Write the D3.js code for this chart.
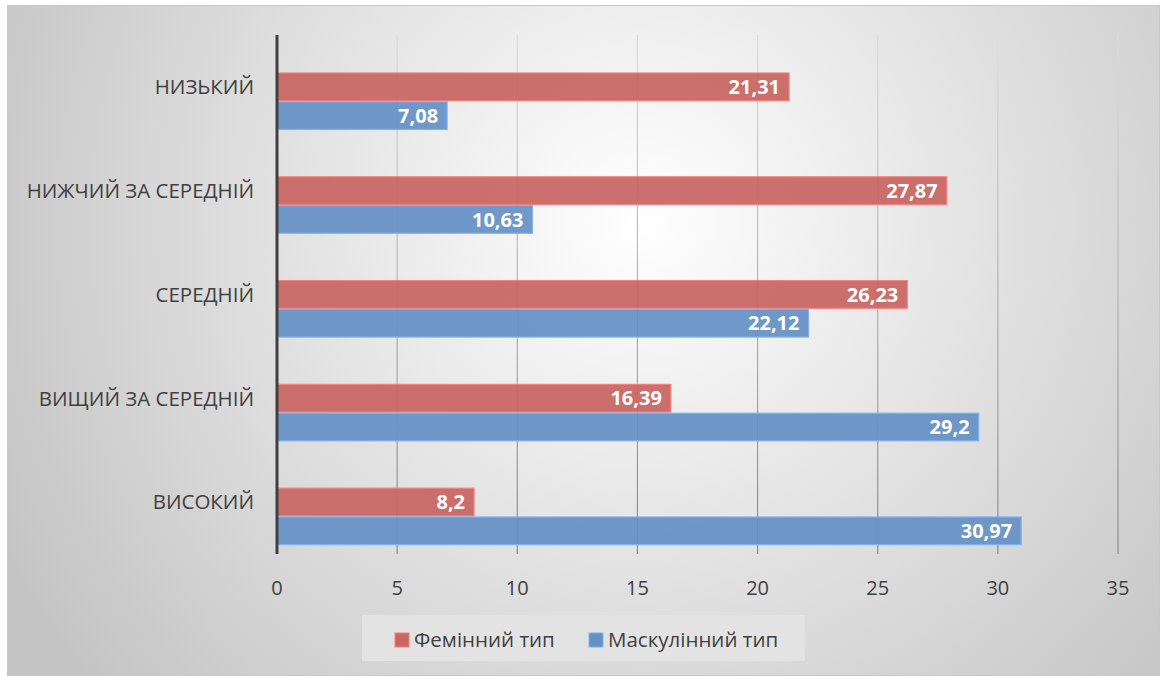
<!DOCTYPE html>
<html lang="uk">
<head>
<meta charset="UTF-8">
<title>Фемінний / Маскулінний тип</title>
<script src="https://d3js.org/d3.v7.min.js"></script>
<style>
  body { margin: 0; background: #fff; }
  svg { display: block; font-family: "Open Sans", "DejaVu Sans", sans-serif; }
</style>
</head>
<body>
<div id="chart"></div>
<script>
const categories = ["НИЗЬКИЙ", "НИЖЧИЙ ЗА СЕРЕДНІЙ", "СЕРЕДНІЙ", "ВИЩИЙ ЗА СЕРЕДНІЙ", "ВИСОКИЙ"];
const feminine = [21.31, 27.87, 26.23, 16.39, 8.2];
const masculine = [7.08, 10.63, 22.12, 29.2, 30.97];
const seriesNames = ["Фемінний тип", "Маскулінний тип"];
const xTicks = [0, 5, 10, 15, 20, 25, 30, 35];

const w = 1166, h = 677;
const fills = ["#c76562", "#6590c5"];

const svg = d3.select("#chart").append("svg")
  .attr("width", w).attr("height", h);

const defs = svg.append("defs");
const bg = defs.append("radialGradient").attr("id", "bg")
  .attr("gradientUnits", "userSpaceOnUse")
  .attr("cx", 640).attr("cy", 220).attr("r", 720);
bg.append("stop").attr("offset", "0%").attr("stop-color", "#ffffff");
bg.append("stop").attr("offset", "100%").attr("stop-color", "#c4c4c4");

const gridGrad = defs.append("linearGradient").attr("id", "gridGrad")
  .attr("gradientUnits", "userSpaceOnUse")
  .attr("x1", 0).attr("x2", 0).attr("y1", 35).attr("y2", 554);
gridGrad.append("stop").attr("offset", "0%").attr("stop-color", "#dcdcdc");
gridGrad.append("stop").attr("offset", "100%").attr("stop-color", "#8a8a8a");

// frame
svg.append("rect")
  .attr("x", 7.5).attr("y", 5.5).attr("width", 1152).attr("height", 670)
  .attr("fill", "url(#bg)").attr("stroke", "#c8c8c8");

const x = d3.scaleLinear().domain([0, 35]).range([277, 1118]);
const y = d3.scaleBand().domain(categories).range([35, 554]);
const bw = y.bandwidth();
const sub = d3.scaleBand().domain([0, 1])
  .range([0.366 * bw, 0.91 * bw]).paddingInner(0.04);

// gridlines
svg.append("g").selectAll("line")
  .data(xTicks.slice(1))
  .join("line")
  .attr("x1", d => x(d)).attr("x2", d => x(d))
  .attr("y1", 35).attr("y2", 554)
  .attr("stroke", "url(#gridGrad)")
  .attr("stroke-width", 1.2);

// bars
const rows = categories.map((c, i) => ({ cat: c, vals: [feminine[i], masculine[i]] }));
const bars = svg.append("g");
rows.forEach(r => {
  r.vals.forEach((v, s) => {
    const y0 = y(r.cat) + sub(s);
    bars.append("rect")
      .attr("x", x(0)).attr("y", y0)
      .attr("width", x(v) - x(0)).attr("height", sub.bandwidth())
      .attr("fill", fills[s]).attr("fill-opacity", 0.93)
      .attr("stroke", d3.color(fills[s]).brighter(0.6))
      .attr("stroke-width", 1.2);
    bars.append("text")
      .attr("x", x(v) - 9)
      .attr("y", y0 + sub.bandwidth() / 2)
      .attr("dy", "0.36em")
      .attr("text-anchor", "end")
      .attr("fill", "#fff")
      .attr("font-weight", "bold")
      .attr("font-size", "20px")
      .text(String(v).replace(".", ","));
  });
});

// category axis
svg.append("line")
  .attr("x1", x(0)).attr("x2", x(0))
  .attr("y1", 35).attr("y2", 554)
  .attr("stroke", "#404040").attr("stroke-width", 3);

svg.append("g").selectAll("text")
  .data(categories)
  .join("text")
  .attr("x", 254)
  .attr("y", d => y(d) + bw / 2)
  .attr("dy", "0.36em")
  .attr("text-anchor", "end")
  .attr("fill", "#404040")
  .attr("font-size", "20.5px")
  .text(d => d);

// value axis labels
svg.append("g").selectAll("text")
  .data(xTicks)
  .join("text")
  .attr("x", d => x(d))
  .attr("y", 588)
  .attr("dy", "0.36em")
  .attr("text-anchor", "middle")
  .attr("fill", "#404040")
  .attr("font-size", "20px")
  .text(d => d);

// legend
const lg = svg.append("g");
lg.append("rect")
  .attr("x", 362).attr("y", 615).attr("width", 443).attr("height", 46)
  .attr("fill", "#e3e3e3");
const legX = [395, 589];
seriesNames.forEach((name, i) => {
  lg.append("rect")
    .attr("x", legX[i]).attr("y", 633).attr("width", 14).attr("height", 14)
    .attr("fill", fills[i]).attr("stroke", d3.color(fills[i]).brighter(0.6));
  lg.append("text")
    .attr("x", legX[i] + 19).attr("y", 640)
    .attr("dy", "0.36em")
    .attr("fill", "#404040")
    .attr("font-size", "20.5px")
    .text(name);
});
</script>
</body>
</html>
